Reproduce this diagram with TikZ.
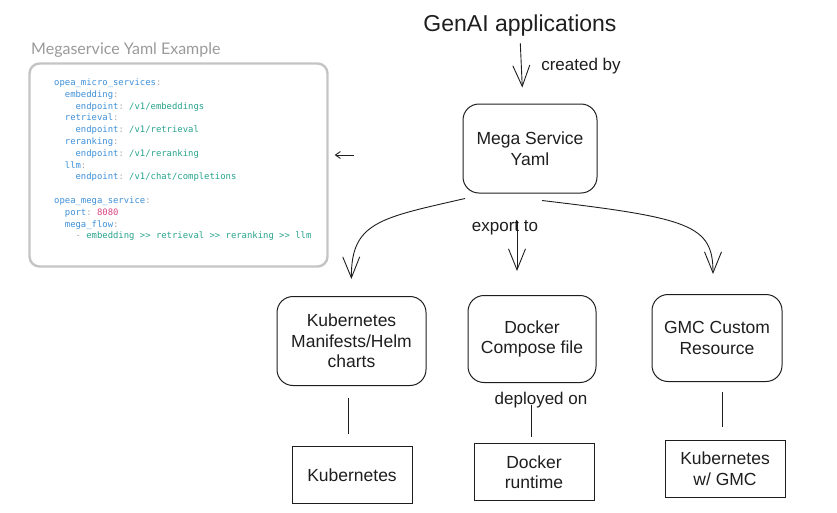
\documentclass[tikz,border=0pt]{standalone}
\usepackage{fontspec}
\setmainfont{Liberation Sans}
\setmonofont{DejaVu Sans Mono}
\newfontfamily\exfont{Lato}
\usetikzlibrary{arrows.meta,calc}

\definecolor{inkgray}{HTML}{1E1E1E}
\definecolor{framegray}{HTML}{C4C4C4}
\definecolor{titlegray}{HTML}{9A9A9A}
\definecolor{yamlkey}{HTML}{3D8FD8}
\definecolor{yamlval}{HTML}{26A38C}
\definecolor{yamlpun}{HTML}{A8A8A8}
\definecolor{yamlnum}{HTML}{D8457F}

\newcommand\ykey[1]{\textcolor{yamlkey}{#1}}
\newcommand\yval[1]{\textcolor{yamlval}{#1}}
\newcommand\ypun[1]{\textcolor{yamlpun}{#1}}
\newcommand\ynum[1]{\textcolor{yamlnum}{#1}}
\newcommand\yind{\phantom{xx}}

\tikzset{
  roundbox/.style={draw=inkgray, line width=1pt, rounded corners=16pt, align=center,
    inner sep=0pt, text=inkgray, font=\fontsize{17.5}{20.5}\selectfont},
  plainbox/.style={draw=inkgray, line width=1pt, align=center,
    inner sep=0pt, text=inkgray, font=\fontsize{17.5}{20.5}\selectfont},
  barb/.style={-{Straight Barb[length=21pt,width=17pt]}, draw=inkgray, line width=0.9pt},
  link/.style={draw=inkgray, line width=1pt},
  tag/.style={text=inkgray, inner sep=0pt, font=\fontsize{17}{20}\selectfont},
}

\begin{document}
\begin{tikzpicture}[x=1pt,y=-1pt]     % pixel grid of the sketch
  \useasboundingbox (0,0) rectangle (837,512);

  % top of the flow
  \node[text=inkgray, inner sep=0pt, font=\fontsize{23}{26}\selectfont] (genai) at (520,25.5) {GenAI applications};
  \node[roundbox, minimum width=134pt, minimum height=89pt] (mega) at (530,148.5) {Mega Service\\Yaml};
  \draw[barb, shorten <=7pt, shorten >=16pt] ([xshift=0pt]genai.south) -- ([xshift=-7pt]mega.north);
  \node[tag] (created) at (581,66) {created by};

  % yaml example on the left
  \node[anchor=west, inner sep=0pt, text=titlegray, font=\exfont\fontsize{16}{18}\selectfont] (yamltitle) at (31,50) {Megaservice Yaml Example};
  \node[draw=framegray, line width=2.4pt, rounded corners=10pt, minimum width=298pt, minimum height=203pt, inner sep=0pt] (yaml) at (178.5,165) {};
  \node[anchor=north west, inner sep=0pt, align=left, font=\ttfamily\fontsize{8.9}{11.8}\selectfont] (code) at (54,78.5) {%
    \ykey{opea\_micro\_services}\ypun{:}\\
    \yind\ykey{embedding}\ypun{:}\\
    \yind\yind\ykey{endpoint}\ypun{:} \yval{/v1/embeddings}\\
    \yind\ykey{retrieval}\ypun{:}\\
    \yind\yind\ykey{endpoint}\ypun{:} \yval{/v1/retrieval}\\
    \yind\ykey{reranking}\ypun{:}\\
    \yind\yind\ykey{endpoint}\ypun{:} \yval{/v1/reranking}\\
    \yind\ykey{llm}\ypun{:}\\
    \yind\yind\ykey{endpoint}\ypun{:} \yval{/v1/chat/completions}\\[11.8pt]
    \ykey{opea\_mega\_service}\ypun{:}\\
    \yind\ykey{port}\ypun{:} \ynum{8080}\\
    \yind\ykey{mega\_flow}\ypun{:}\\
    \yind\yind\ypun{-} \yval{embedding {>}{>} retrieval {>}{>} reranking {>}{>} llm}};
  \coordinate (pointer) at (354,155);
  \draw[-{Straight Barb[length=5pt,width=7pt]}, draw=inkgray, line width=0.9pt, shorten >=6pt] (pointer) -- (yaml.east |- pointer);

  % exported artefacts
  \node[roundbox, minimum width=149pt, minimum height=89pt] (manifests) at (351.5,341) {Kubernetes\\Manifests/Helm\\charts};
  \node[roundbox, minimum width=128pt, minimum height=87pt] (compose) at (532,339) {Docker\\Compose file};
  \node[roundbox, minimum width=130pt, minimum height=87pt] (gmc) at (717,338) {GMC Custom\\Resource};

  \draw[barb, shorten >=17pt] ($(mega.south)+(-65,5)$) .. controls (380,218) and (351,222) .. (manifests.north);
  \draw[barb, shorten <=27pt, shorten >=24pt] ([xshift=-13pt]mega.south) -- ([xshift=-15pt]compose.north);
  \draw[barb, shorten >=20pt] ($(mega.south)+(12,7)$) .. controls (690,218) and (713,225) .. ([xshift=-4pt]gmc.north);
  \node[tag] (export) at (505,228) {export to};

  % runtimes
  \node[plainbox, minimum width=120pt, minimum height=57pt] (kube) at (352,475) {Kubernetes};
  \node[plainbox, minimum width=120pt, minimum height=57pt] (runtime) at (534,472) {Docker\\runtime};
  \node[plainbox, minimum width=120pt, minimum height=57pt] (kubegmc) at (725,468.5) {Kubernetes\\w/ GMC};

  \draw[link, shorten <=12pt, shorten >=12pt] ([xshift=-3pt]manifests.south) -- ([xshift=-3pt]manifests.south |- kube.north);
  \draw[link, shorten <=22pt, shorten >=6pt] ([xshift=-1pt]compose.south) -- ([xshift=-1pt]compose.south |- runtime.north);
  \draw[link, shorten <=10pt, shorten >=13pt] ([xshift=5pt]gmc.south) -- ([xshift=5pt]gmc.south |- kubegmc.north);
  \node[tag] (deployed) at (541,400) {deployed on};
\end{tikzpicture}
\end{document}
